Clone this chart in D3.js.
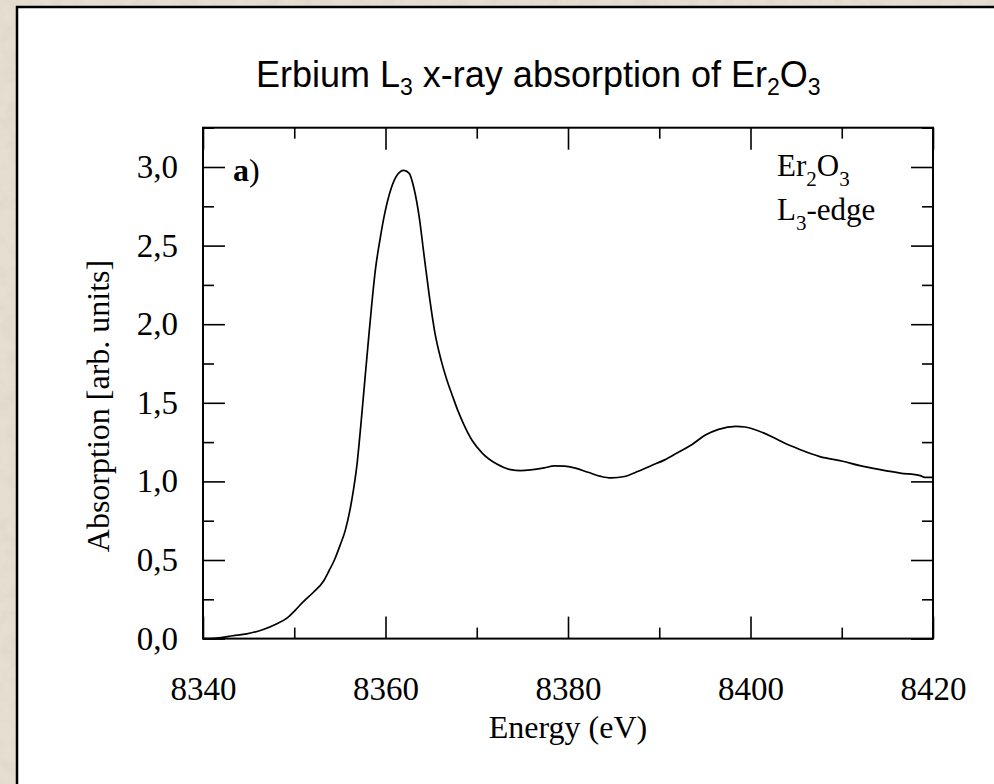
<!DOCTYPE html>
<html>
<head>
<meta charset="utf-8">
<script src="https://cdn.jsdelivr.net/npm/d3@7"></script>
<style>
  html, body { margin: 0; padding: 0; background: #e4dccd; }
  svg { display: block; }
</style>
</head>
<body>
<svg id="chart" width="994" height="784"></svg>
<script>
// Er L3-edge XANES spectrum of Er2O3
const energy = [
  8340.0, 8341.5, 8343.3, 8344.8, 8346.6, 8348.1, 8349.2, 8350.1, 8351.0, 8352.1,
  8353.2, 8353.8, 8354.4, 8355.0, 8355.6, 8356.3, 8356.9, 8357.3, 8357.7, 8358.1,
  8358.5, 8358.9, 8359.4, 8359.9, 8360.6, 8361.3, 8362.0, 8362.6, 8363.1, 8363.7,
  8364.2, 8364.8, 8365.4, 8366.1, 8366.7, 8367.3, 8367.9, 8368.6, 8369.5, 8370.6,
  8372.2, 8373.7, 8374.8, 8375.9, 8377.4, 8378.5, 8379.6, 8380.7, 8382.2, 8383.6,
  8384.7, 8386.2, 8387.7, 8389.1, 8390.6, 8392.1, 8393.6, 8395.0, 8396.5, 8398.4,
  8399.4, 8400.9, 8402.4, 8403.5, 8405.4, 8407.6, 8410.1, 8412.0, 8414.2, 8416.4,
  8418.6, 8419.1, 8420.0
];
const absorption = [
  0.000, 0.003, 0.018, 0.030, 0.058, 0.095, 0.130, 0.180, 0.235, 0.295,
  0.365, 0.430, 0.500, 0.590, 0.690, 0.880, 1.120, 1.360, 1.620, 1.880,
  2.130, 2.350, 2.540, 2.700, 2.860, 2.950, 2.978, 2.960, 2.870, 2.680,
  2.450, 2.180, 1.950, 1.770, 1.650, 1.550, 1.455, 1.360, 1.260, 1.180,
  1.110, 1.075, 1.069, 1.073, 1.086, 1.099, 1.097, 1.086, 1.058, 1.032,
  1.022, 1.031, 1.064, 1.100, 1.137, 1.186, 1.235, 1.293, 1.331, 1.350,
  1.346, 1.321, 1.283, 1.250, 1.203, 1.158, 1.128, 1.100, 1.075, 1.053,
  1.037, 1.026, 1.026
];

// axis ticks
const xMajorTicks = [8340, 8360, 8380, 8400, 8420];
const xMinorTicks = [8350, 8370, 8390, 8410];
const yMajorTicks = [0, 0.5, 1.0, 1.5, 2.0, 2.5, 3.0];
const yMinorTicks = [0.25, 0.75, 1.25, 1.75, 2.25, 2.75, 3.25];

const xDomain = [8340, 8420];
const yDomain = [0, 3.25];

const svg = d3.select("#chart");
const W = 994, H = 784;

// parchment backdrop
const defs = svg.append("defs");
const grain = defs.append("filter").attr("id", "grain")
  .attr("x", 0).attr("y", 0).attr("width", "100%").attr("height", "100%");
grain.append("feTurbulence").attr("type", "fractalNoise")
  .attr("baseFrequency", "0.06").attr("numOctaves", 4).attr("seed", 7);
grain.append("feColorMatrix").attr("type", "matrix")
  .attr("values", "0 0 0 0 0.62  0 0 0 0 0.57  0 0 0 0 0.48  1.1 0 0 0 -0.45");

svg.append("rect").attr("width", W).attr("height", H).attr("fill", "#e6dfd1");
svg.append("rect").attr("width", W).attr("height", H).attr("filter", "url(#grain)").attr("opacity", 0.55);

// white panel with dark border
svg.append("rect")
  .attr("x", 17).attr("y", 7).attr("width", W).attr("height", H)
  .attr("fill", "#fff").attr("stroke", "#000").attr("stroke-width", 2.5);

const m = { left: 203, right: 933, top: 127.7, bottom: 638.6 };
const x = d3.scaleLinear().domain(xDomain).range([m.left, m.right]);
const y = d3.scaleLinear().domain(yDomain).range([m.bottom, m.top]);

const serif = "'Liberation Serif', 'Times New Roman', serif";
const sans = "'Liberation Sans', Arial, sans-serif";
const fmt = v => d3.format(".1f")(v).replace(".", ",");

const majorLen = 22, minorLen = 11;

function drawAxis(gen, transform) {
  const g = svg.append("g").attr("transform", transform).call(gen);
  g.select(".domain").remove();
  g.selectAll(".tick line").attr("stroke", "#000").attr("stroke-width", 1.6);
  return g;
}

// ticks on all four sides, pointing inward
drawAxis(d3.axisBottom(x).tickValues(xMajorTicks).tickSizeInner(-majorLen).tickSizeOuter(0).tickFormat(""), `translate(0,${m.bottom})`);
drawAxis(d3.axisBottom(x).tickValues(xMinorTicks).tickSizeInner(-minorLen).tickSizeOuter(0).tickFormat(""), `translate(0,${m.bottom})`);
drawAxis(d3.axisTop(x).tickValues(xMajorTicks).tickSizeInner(-majorLen).tickSizeOuter(0).tickFormat(""), `translate(0,${m.top})`);
drawAxis(d3.axisTop(x).tickValues(xMinorTicks).tickSizeInner(-minorLen).tickSizeOuter(0).tickFormat(""), `translate(0,${m.top})`);
drawAxis(d3.axisLeft(y).tickValues(yMajorTicks).tickSizeInner(-majorLen).tickSizeOuter(0).tickFormat(""), `translate(${m.left},0)`);
drawAxis(d3.axisLeft(y).tickValues(yMinorTicks).tickSizeInner(-minorLen).tickSizeOuter(0).tickFormat(""), `translate(${m.left},0)`);
drawAxis(d3.axisRight(y).tickValues(yMajorTicks).tickSizeInner(-majorLen).tickSizeOuter(0).tickFormat(""), `translate(${m.right},0)`);
drawAxis(d3.axisRight(y).tickValues(yMinorTicks).tickSizeInner(-minorLen).tickSizeOuter(0).tickFormat(""), `translate(${m.right},0)`);

// tick labels
const xl = svg.append("g").attr("transform", `translate(0,${m.bottom})`)
  .call(d3.axisBottom(x).tickValues(xMajorTicks).tickSize(0).tickPadding(38).tickFormat(d3.format("d")));
xl.select(".domain").remove();
xl.selectAll("text").attr("font-family", serif).attr("font-size", 33).attr("fill", "#000");

const yl = svg.append("g").attr("transform", `translate(${m.left},0)`)
  .call(d3.axisLeft(y).tickValues(yMajorTicks).tickSize(0).tickPadding(25).tickFormat(fmt));
yl.select(".domain").remove();
yl.selectAll("text").attr("font-family", serif).attr("font-size", 33).attr("fill", "#000");

// plot frame
svg.append("rect")
  .attr("x", m.left).attr("y", m.top)
  .attr("width", m.right - m.left).attr("height", m.bottom - m.top)
  .attr("fill", "none").attr("stroke", "#000").attr("stroke-width", 2);

// spectrum
const line = d3.line()
  .x((d, i) => x(energy[i]))
  .y(d => y(d))
  .curve(d3.curveMonotoneX);
svg.append("path")
  .datum(absorption)
  .attr("d", line)
  .attr("fill", "none").attr("stroke", "#000").attr("stroke-width", 1.7)
  .attr("stroke-linejoin", "round");

// title
const title = svg.append("text")
  .attr("x", 256).attr("y", 87)
  .attr("text-anchor", "start")
  .attr("font-family", sans).attr("font-size", 36).attr("fill", "#000");
title.append("tspan").text("Erbium L");
title.append("tspan").attr("font-size", 23).attr("dy", 8).text("3");
title.append("tspan").attr("dy", -8).text(" x-ray absorption of Er");
title.append("tspan").attr("font-size", 23).attr("dy", 8).text("2");
title.append("tspan").attr("dy", -8).text("O");
title.append("tspan").attr("font-size", 23).attr("dy", 8).text("3");

// axis titles
svg.append("text")
  .attr("x", (m.left + m.right) / 2).attr("y", 738)
  .attr("text-anchor", "middle")
  .attr("font-family", serif).attr("font-size", 32).attr("fill", "#000")
  .text("Energy (eV)");

svg.append("text")
  .attr("transform", `translate(109,406) rotate(-90)`)
  .attr("text-anchor", "middle")
  .attr("font-family", serif).attr("font-size", 32).attr("fill", "#000")
  .text("Absorption [arb. units]");

// panel label
const pl = svg.append("text")
  .attr("x", 233).attr("y", 181)
  .attr("font-family", serif).attr("font-size", 32).attr("fill", "#000");
pl.append("tspan").attr("font-weight", "bold").text("a");
pl.append("tspan").text(")");

// sample annotation
const a1 = svg.append("text")
  .attr("x", 777).attr("y", 176)
  .attr("font-family", serif).attr("font-size", 31).attr("fill", "#000");
a1.append("tspan").text("Er");
a1.append("tspan").attr("font-size", 21).attr("dy", 10).text("2");
a1.append("tspan").attr("dy", -10).text("O");
a1.append("tspan").attr("font-size", 21).attr("dy", 10).text("3");

const a2 = svg.append("text")
  .attr("x", 777).attr("y", 220)
  .attr("font-family", serif).attr("font-size", 31).attr("fill", "#000");
a2.append("tspan").text("L");
a2.append("tspan").attr("font-size", 21).attr("dy", 10).text("3");
a2.append("tspan").attr("dy", -10).text("-edge");
</script>
</body>
</html>
